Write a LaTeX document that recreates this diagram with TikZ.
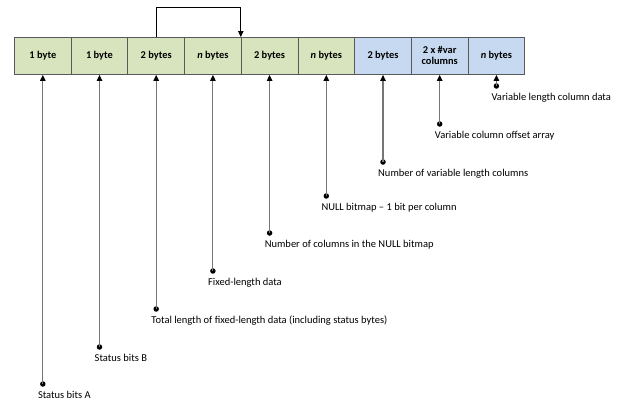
\documentclass[tikz,border=0pt]{standalone}
\usepackage{fontspec}
\setmainfont{Carlito}
\usetikzlibrary{arrows.meta}
\definecolor{gfill}{HTML}{D7E4BD}
\definecolor{bfill}{HTML}{C6D9F1}
\definecolor{bord}{HTML}{595959}
\definecolor{lgray}{HTML}{767676}
\begin{document}
\begin{tikzpicture}[x=1pt,y=-1pt,
  cell/.style={draw=bord,line width=0.9pt,minimum width=56.7pt,minimum height=37pt,inner sep=1pt,font=\fontsize{10.4}{11}\selectfont\bfseries,align=center,anchor=north west},
  gcell/.style={cell,fill=gfill},
  bcell/.style={cell,fill=bfill},
  dotn/.style={circle,fill=black,inner sep=0pt,minimum size=5.5pt},
  lbl/.style={anchor=base west,inner sep=0pt,font=\fontsize{10.5}{12}\selectfont},
  pt/.style={draw=lgray,line width=1.1pt,-{Triangle[length=6pt,width=5.5pt,black]}}]
\useasboundingbox (0,0) rectangle (620,410);
\node[gcell] (b1) at (14,37) {1 byte};
\node[gcell] (b2) at (70.7,37) {1 byte};
\node[gcell] (b3) at (127.4,37) {2 bytes};
\node[gcell] (b4) at (184.1,37) {\textit{n} bytes};
\node[gcell] (b5) at (240.8,37) {2 bytes};
\node[gcell] (b6) at (297.5,37) {\textit{n} bytes};
\node[bcell] (b7) at (354.2,37) {2 bytes};
\node[bcell] (b8) at (410.9,37) {2 x \#var\\columns};
\node[bcell] (b9) at (467.6,37) {\textit{n} bytes};
% bracket
\draw[draw=black,line width=0.9pt,-{Triangle[length=6pt,width=5.5pt,black]}] (b3.north) -- ++(0,-30) coordinate (tp) -| (b5.north west);
% dots
\node[dotn] (d1) at (b1.south |- 0,384) {};
\node[dotn] (d2) at (b2.south |- 0,347) {};
\node[dotn] (d3) at (b3.south |- 0,309) {};
\node[dotn] (d4) at (b4.south |- 0,271) {};
\node[dotn] (d5) at (b5.south |- 0,233) {};
\node[dotn] (d6) at (b6.south |- 0,196) {};
\node[dotn] (d7) at (b7.south |- 0,162) {};
\node[dotn] (d8) at (b8.south |- 0,124) {};
\node[dotn] (d9) at (b9.south |- 0,86) {};
\foreach \i in {1,...,9}{\draw[pt] (d\i.center) -- (b\i.south);}
\node[lbl] (l1) at ([xshift=-5pt,yshift=-14pt]d1.center) {Status bits A};
\node[lbl] (l2) at ([xshift=-5pt,yshift=-14pt]d2.center) {Status bits B};
\node[lbl] (l3) at ([xshift=-5pt,yshift=-14pt]d3.center) {Total length of fixed-length data (including status bytes)};
\node[lbl] (l4) at ([xshift=-5pt,yshift=-14pt]d4.center) {Fixed-length data};
\node[lbl] (l5) at ([xshift=-5pt,yshift=-14pt]d5.center) {Number of columns in the NULL bitmap};
\node[lbl] (l6) at ([xshift=-5pt,yshift=-14pt]d6.center) {NULL bitmap – 1 bit per column};
\node[lbl] (l7) at ([xshift=-5pt,yshift=-14pt]d7.center) {Number of variable length columns};
\node[lbl] (l8) at ([xshift=-5pt,yshift=-14pt]d8.center) {Variable column offset array};
\node[lbl] (l9) at ([xshift=-5pt,yshift=-14pt]d9.center) {Variable length column data};
\end{tikzpicture}
\end{document}
